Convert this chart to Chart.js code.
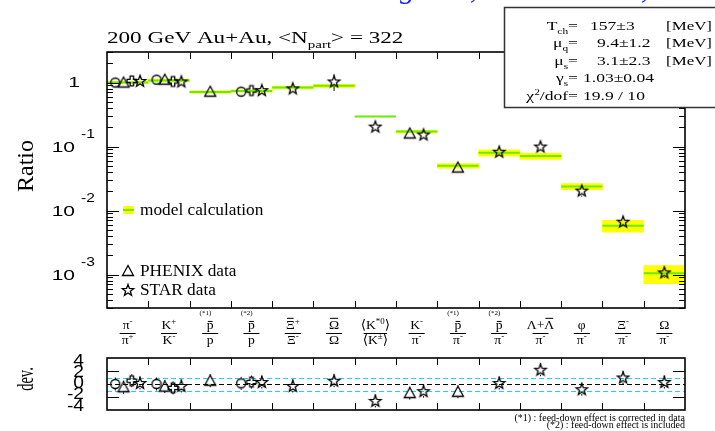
<!DOCTYPE html>
<html>
<head>
<meta charset="utf-8">
<script src="https://cdn.jsdelivr.net/npm/chart.js@4.4.0/dist/chart.umd.min.js"></script>
<style>
body { margin: 0; background: #fff; }
#wrap { position: relative; width: 715px; height: 431px; overflow: hidden; }
canvas { position: absolute; left: 0; top: 0; }
.cut { position: absolute; top: -27px; font: italic 30px "Liberation Serif", serif; color: #1a2ee0; line-height: 30px; }
</style>
</head>
<body>
<div id="wrap">
<canvas id="ratio" width="715" height="431"></canvas>
<canvas id="dev" width="715" height="431"></canvas>
<span class="cut" style="left:400px">g</span>
<span class="cut" style="left:470px">,</span>
<span class="cut" style="left:641px">,</span>
</div>
<script>
// ---- data ----
const NBINS = 14;
const modelRatio = [1.00, 1.08, 0.71, 0.74, 0.84, 0.89, 0.295, 0.171, 0.050, 0.080, 0.071, 0.0237, 0.0058, 0.00105];
const modelErr   = [0.04, 0.05, 0.03, 0.03, 0.04, 0.05, 0, 0.008, 0.004, 0.009, 0.008, 0.0026, 0.0012, 0.00033];

// circle
const brahmsBins  = [0, 1, 3];
const brahmsRatio = [1.00, 1.11, 0.72];
const brahmsErr   = [0.03, 0.04, 0.03];
const brahmsDev   = [0.0, 0.0, 0.1];
// triangle
const phenixBins  = [0, 1, 2, 7, 8];
const phenixRatio = [1.00, 1.11, 0.72, 0.16, 0.047];
const phenixErr   = [0.03, 0.04, 0.03, 0.006, 0.002];
const phenixDev   = [-0.5, -0.4, 0.5, -1.4, -1.2];
// open cross
const phobosBins  = [0, 1, 3];
const phobosRatio = [1.06, 1.04, 0.75];
const phobosErr   = [0.03, 0.04, 0.03];
const phobosDev   = [0.5, -0.6, 0.3];
// star
const starBins  = [0, 1, 3, 4, 5, 6, 7, 9, 10, 11, 12, 13];
const starRatio = [1.06, 1.04, 0.76, 0.81, 1.04, 0.205, 0.154, 0.083, 0.100, 0.0205, 0.0067, 0.00108];
const starErr   = [0.03, 0.04, 0.03, 0.04, 0.30, 0.02, 0.008, 0.006, 0.008, 0.004, 0.0008, 0.0002];
const starDev   = [0.15, -0.3, 0.3, -0.3, 0.5, -2.6, -1.1, 0.15, 2.2, -0.8, 1.0, 0.3];

const devErr = 1;

// category labels as rich text segments: [text, kind]
const labelNum = [
  [['π'], ['-', 'sup']], [['K'], ['+', 'sup']], [['p', 'bar']], [['p', 'bar']],
  [['Ξ', 'bar'], ['+', 'sup']], [['Ω', 'bar']], [['⟨K'], ['*0', 'sup'], ['⟩']],
  [['K'], ['-', 'sup']], [['p', 'bar']], [['p', 'bar']], [['Λ+'], ['Λ', 'bar']],
  [['φ']], [['Ξ'], ['-', 'sup']], [['Ω']]
];
const labelDen = [
  [['π'], ['+', 'sup']], [['K'], ['-', 'sup']], [['p']], [['p']],
  [['Ξ'], ['-', 'sup']], [['Ω']], [['⟨K'], ['±', 'sup'], ['⟩']],
  [['π'], ['-', 'sup']], [['π'], ['-', 'sup']], [['π'], ['-', 'sup']], [['π'], ['-', 'sup']],
  [['π'], ['-', 'sup']], [['π'], ['-', 'sup']], [['π'], ['-', 'sup']]
];
const labelNote = ['', '', '(*1)', '(*2)', '', '', '', '', '(*1)', '(*2)', '', '', '', ''];

const ratioTicks = [1, 0.1, 0.01, 0.001];
const ratioTickExp = ['', '-1', '-2', '-3'];
const devTicks = [4, 2, 0, -2, -4];

const fitNames = [
  [['T'], ['ch', 'sub'], ['=']], [['μ'], ['q', 'sub'], ['=']], [['μ'], ['s', 'sub'], ['=']],
  [['γ'], ['s', 'sub'], ['=']], [['χ'], ['2', 'sup'], ['/dof=']]
];
const fitValues = ['157±3', '9.4±1.2', '3.1±2.3', '1.03±0.04', '19.9 / 10'];
const fitUnits = ['[MeV]', '[MeV]', '[MeV]', '', ''];

const titleSegs = [['200 GeV Au+Au, <N'], ['part', 'sub'], ['> = 322']];
const notes = ['(*1) : feed-down effect is corrected in data', '(*2) : feed-down effect is included'];

// ---- styles ----
const SERIF = '"Liberation Serif", "DejaVu Serif", serif';
const SANS = '"Liberation Sans", "DejaVu Sans", sans-serif';
const YELLOW = '#ffff00';
const GREEN = '#66ee00';
const CYAN = '#00e0f0';

function makeMarker(kind) {
  const c = document.createElement('canvas');
  c.width = 16; c.height = 16;
  const g = c.getContext('2d');
  g.strokeStyle = '#000';
  g.lineWidth = 1.3;
  g.beginPath();
  if (kind === 'circle') {
    g.arc(8, 8, 4.5, 0, 2 * Math.PI);
  } else if (kind === 'triangle') {
    g.moveTo(8, 2.5); g.lineTo(13.5, 12.5); g.lineTo(2.5, 12.5); g.closePath();
  } else if (kind === 'cross') {
    const a = 1.7, b = 4.8;
    const pts = [[-a, -b], [a, -b], [a, -a], [b, -a], [b, a], [a, a], [a, b], [-a, b], [-a, a], [-b, a], [-b, -a], [-a, -a]];
    pts.forEach((p, i) => i ? g.lineTo(8 + p[0], 8 + p[1]) : g.moveTo(8 + p[0], 8 + p[1]));
    g.closePath();
  } else {
    for (let k = 0; k < 10; k++) {
      const r = k % 2 ? 2.5 : 6.0;
      const ang = -Math.PI / 2 + k * Math.PI / 5;
      const x = 8 + r * Math.cos(ang), y = 8.5 + r * Math.sin(ang);
      k ? g.lineTo(x, y) : g.moveTo(x, y);
    }
    g.closePath();
  }
  g.stroke();
  return c;
}
const markers = { circle: makeMarker('circle'), triangle: makeMarker('triangle'), cross: makeMarker('cross'), star: makeMarker('star') };

const expBins = [brahmsBins, phenixBins, phobosBins, starBins];
function xPos(e, bin) {
  const present = expBins.map((b, k) => b.includes(bin) ? k : -1).filter(k => k >= 0);
  return bin + (present.indexOf(e) + 1) / (present.length + 1);
}

function richWidth(ctx, segs, size) {
  let w = 0;
  segs.forEach(([t, k]) => {
    const s = (k === 'sup' || k === 'sub') ? size * 0.65 : size;
    ctx.font = s + 'px ' + SERIF;
    w += ctx.measureText(t).width;
  });
  return w;
}
// draws segments with horizontal stretch sx; returns drawn width in pixels
function drawRich(ctx, segs, x, y, size, align, sx) {
  sx = sx || 1;
  const w = richWidth(ctx, segs, size);
  const start = align === 'center' ? -w / 2 : align === 'right' ? -w : 0;
  ctx.save();
  ctx.translate(x, y);
  ctx.scale(sx, 1);
  ctx.textAlign = 'left';
  ctx.textBaseline = 'alphabetic';
  let cx = start;
  segs.forEach(([t, k]) => {
    const s = (k === 'sup' || k === 'sub') ? size * 0.65 : size;
    ctx.font = s + 'px ' + SERIF;
    const dy = k === 'sup' ? -size * 0.42 : k === 'sub' ? size * 0.28 : 0;
    ctx.fillText(t, cx, dy);
    const tw = ctx.measureText(t).width;
    if (k === 'bar') {
      const low = t === t.toLowerCase();
      ctx.fillRect(cx + 1, -(low ? size * 0.62 : size * 0.86), tw - 2, 1);
    }
    cx += tw;
  });
  ctx.restore();
  return w * sx;
}
function stretchText(ctx, txt, x, y, sx, align) {
  ctx.save();
  ctx.translate(x, y);
  ctx.scale(sx, 1);
  ctx.textAlign = align;
  ctx.fillText(txt, 0, 0);
  ctx.restore();
}
function halfBin(c) {
  const s = c.chart.scales.x;
  return (s.getPixelForValue(1) - s.getPixelForValue(0)) / 2;
}

function expDatasets(field) {
  const list = [
    [brahmsBins, brahmsRatio, brahmsErr, brahmsDev, 'circle'],
    [phenixBins, phenixRatio, phenixErr, phenixDev, 'triangle'],
    [phobosBins, phobosRatio, phobosErr, phobosDev, 'cross'],
    [starBins, starRatio, starErr, starDev, 'star']
  ];
  return list.map(([bins, ratio, err, dev, m], e) => ({
    type: 'line', showLine: false, order: 0,
    data: bins.map((b, j) => ({ x: xPos(e, b), y: field === 'ratio' ? ratio[j] : dev[j] })),
    errors: bins.map((b, j) => field === 'ratio' ? err[j] : devErr),
    pointStyle: markers[m], pointRadius: 5
  }));
}

const errorBars = {
  id: 'errorBars',
  afterDatasetsDraw(chart) {
    const ctx = chart.ctx, ys = chart.scales.y;
    ctx.save();
    ctx.strokeStyle = '#000';
    ctx.lineWidth = 1;
    chart.data.datasets.forEach((ds, i) => {
      if (!ds.errors) return;
      chart.getDatasetMeta(i).data.forEach((pt, j) => {
        const v = ds.data[j].y, e = ds.errors[j];
        const yHi = ys.getPixelForValue(v + e), yLo = ys.getPixelForValue(v - e);
        ctx.beginPath();
        if (yHi < pt.y - 5) { ctx.moveTo(pt.x, yHi); ctx.lineTo(pt.x, pt.y - 5); }
        if (yLo > pt.y + 5) { ctx.moveTo(pt.x, pt.y + 5); ctx.lineTo(pt.x, yLo); }
        ctx.stroke();
      });
    });
    ctx.restore();
  }
};

function drawFrame(ctx, a, xs) {
  ctx.strokeStyle = '#000';
  ctx.lineWidth = 1.6;
  ctx.strokeRect(a.left, a.top, a.right - a.left, a.bottom - a.top);
  ctx.lineWidth = 1;
  ctx.beginPath();
  for (let i = 1; i < NBINS; i++) {
    const x = Math.round(xs.getPixelForValue(i)) + 0.5;
    ctx.moveTo(x, a.top); ctx.lineTo(x, a.top + 7);
    ctx.moveTo(x, a.bottom); ctx.lineTo(x, a.bottom - 7);
  }
  ctx.stroke();
}

const ratioDecor = {
  id: 'ratioDecor',
  afterDraw(chart) {
    const ctx = chart.ctx, a = chart.chartArea, xs = chart.scales.x, ys = chart.scales.y;
    ctx.save();
    drawFrame(ctx, a, xs);
    // log ticks
    ctx.beginPath();
    for (let d = -4; d <= 0; d++) {
      for (let m = 1; m <= 9; m++) {
        const v = m * Math.pow(10, d);
        if (v < ys.min || v > ys.max) continue;
        const y = Math.round(ys.getPixelForValue(v)) + 0.5;
        const len = m === 1 ? 12 : 6;
        ctx.moveTo(a.left, y); ctx.lineTo(a.left + len, y);
        ctx.moveTo(a.right, y); ctx.lineTo(a.right - len, y);
      }
    }
    ctx.stroke();
    // y tick labels
    ctx.fillStyle = '#000';
    ctx.textBaseline = 'middle';
    ratioTicks.forEach((v, i) => {
      const y = ys.getPixelForValue(v);
      ctx.font = '15px ' + SANS;
      if (!ratioTickExp[i]) {
        stretchText(ctx, '1', 80, y, 1.4, 'right');
      } else {
        stretchText(ctx, '10', 75, y + 1, 1.4, 'right');
        ctx.font = '12px ' + SANS;
        stretchText(ctx, ratioTickExp[i], 81, y - 12, 1.3, 'left');
      }
    });
    // axis title
    ctx.save();
    ctx.translate(27, 166);
    ctx.rotate(-Math.PI / 2);
    ctx.font = '24px ' + SERIF;
    ctx.textAlign = 'center';
    ctx.fillText('Ratio', 0, 0);
    ctx.restore();
    // category labels
    for (let i = 0; i < NBINS; i++) {
      const cx = xs.getPixelForValue(i + 0.5);
      drawRich(ctx, labelNum[i], cx, 329, 13, 'center', 1.05);
      const dw = drawRich(ctx, labelDen[i], cx, 344, 13, 'center', 1.05);
      const bw = Math.max(16, dw - 2);
      ctx.fillRect(cx - bw / 2, 333, bw, 1);
      if (labelNote[i]) {
        ctx.font = '7px ' + SERIF;
        ctx.textAlign = 'right';
        ctx.textBaseline = 'alphabetic';
        ctx.fillText(labelNote[i], cx + 1, 315);
      }
    }
    // title
    drawRich(ctx, titleSegs, 107, 43, 17, 'left', 1.36);
    // legend
    ctx.fillStyle = YELLOW;
    ctx.fillRect(123, 206, 11, 8);
    ctx.fillStyle = GREEN;
    ctx.fillRect(123, 209, 11, 2);
    ctx.fillStyle = '#000';
    ctx.font = '16px ' + SERIF;
    ctx.textBaseline = 'middle';
    stretchText(ctx, 'model calculation', 140, 211, 1.08, 'left');
    ctx.drawImage(markers.triangle, 120, 263);
    stretchText(ctx, 'PHENIX data', 140, 272, 1.08, 'left');
    ctx.drawImage(markers.star, 120, 282);
    stretchText(ctx, 'STAR data', 140, 291, 1.08, 'left');
    // fit parameter box
    ctx.fillStyle = '#fff';
    ctx.fillRect(504, 7, 215, 101);
    ctx.strokeStyle = '#333';
    ctx.lineWidth = 1.5;
    ctx.strokeRect(504.5, 7.5, 220, 100);
    ctx.fillStyle = '#000';
    const rowY = [30, 47, 65, 82, 100];
    const valX = [590, 597, 597, 583, 583];
    fitNames.forEach((segs, i) => {
      drawRich(ctx, segs, 578, rowY[i], 13, 'right', 1.35);
      ctx.font = '13px ' + SERIF;
      ctx.textBaseline = 'alphabetic';
      stretchText(ctx, fitValues[i], valX[i], rowY[i], 1.35, 'left');
      if (fitUnits[i]) stretchText(ctx, fitUnits[i], 666, rowY[i], 1.3, 'left');
    });
    ctx.restore();
  }
};

const devDecor = {
  id: 'devDecor',
  beforeDatasetsDraw(chart) {
    const ctx = chart.ctx, a = chart.chartArea, ys = chart.scales.y;
    ctx.save();
    ctx.lineWidth = 1.2;
    ctx.setLineDash([5, 3]);
    [[0, '#000'], [1, CYAN], [-1, CYAN]].forEach(([v, col]) => {
      const y = Math.round(ys.getPixelForValue(v)) + 0.5;
      ctx.strokeStyle = col;
      ctx.beginPath(); ctx.moveTo(a.left, y); ctx.lineTo(a.right, y); ctx.stroke();
    });
    ctx.restore();
  },
  afterDraw(chart) {
    const ctx = chart.ctx, a = chart.chartArea, xs = chart.scales.x, ys = chart.scales.y;
    ctx.save();
    drawFrame(ctx, a, xs);
    ctx.beginPath();
    [2, -2].forEach(v => {
      const y = Math.round(ys.getPixelForValue(v)) + 0.5;
      ctx.moveTo(a.left, y); ctx.lineTo(a.left + 12, y);
      ctx.moveTo(a.right, y); ctx.lineTo(a.right - 12, y);
    });
    ctx.stroke();
    ctx.fillStyle = '#000';
    ctx.textBaseline = 'middle';
    ctx.font = '16px ' + SANS;
    devTicks.forEach(v => stretchText(ctx, String(v), 84, ys.getPixelForValue(v * 0.85), 1.2, 'right'));
    ctx.save();
    ctx.translate(27, 379);
    ctx.rotate(-Math.PI / 2);
    ctx.scale(0.6, 1);
    ctx.font = '24px ' + SERIF;
    ctx.textAlign = 'center';
    ctx.fillText('dev.', 0, 0);
    ctx.restore();
    ctx.font = '10px ' + SERIF;
    ctx.textAlign = 'right';
    ctx.textBaseline = 'alphabetic';
    ctx.fillText(notes[0], 685, 421);
    ctx.fillText(notes[1], 685, 428);
    ctx.restore();
  }
};

const baseOptions = (pad, yScale) => ({
  responsive: false,
  animation: false,
  layout: { padding: pad },
  plugins: { legend: { display: false }, tooltip: { enabled: false } },
  scales: {
    x: { type: 'linear', min: 0, max: NBINS, offset: false, display: false, ticks: { stepSize: 1 } },
    y: yScale
  }
});

new Chart(document.getElementById('ratio'), {
  type: 'bar',
  data: {
    datasets: [
      ...expDatasets('ratio'),
      {
        type: 'line', showLine: false, order: 1,
        data: modelRatio.map((v, i) => ({ x: i + 0.5, y: v })),
        pointStyle: 'line', pointRadius: halfBin, pointBorderColor: GREEN, pointBorderWidth: 2
      },
      {
        type: 'bar', order: 2, grouped: false,
        data: modelRatio.map((v, i) => ({ x: i + 0.5, y: [v - modelErr[i], v + modelErr[i]] })),
        backgroundColor: YELLOW, borderWidth: 0, barPercentage: 1, categoryPercentage: 1
      }
    ]
  },
  options: baseOptions({ left: 107, right: 30, top: 52, bottom: 123 },
    { type: 'logarithmic', min: 0.0003, max: 3, display: false }),
  plugins: [errorBars, ratioDecor]
});

new Chart(document.getElementById('dev'), {
  type: 'line',
  data: { datasets: expDatasets('dev') },
  options: baseOptions({ left: 107, right: 30, top: 358, bottom: 21 },
    { type: 'linear', min: -4, max: 4, display: false }),
  plugins: [errorBars, devDecor]
});
</script>
</body>
</html>
